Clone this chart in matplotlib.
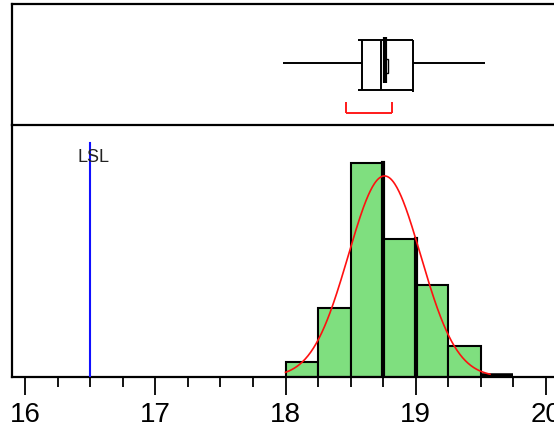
import numpy as np
import matplotlib
matplotlib.use("Agg")
import matplotlib.pyplot as plt
from matplotlib.ticker import MultipleLocator

# Histogram data (bin width 0.25)
bin_edges = [18.0, 18.25, 18.5, 18.75, 19.0, 19.25, 19.5, 19.75]
counts = [2, 9, 28, 18, 12, 4, 0]

# Summary statistics for the box plot
whisker_lo = 17.98
q1 = 18.59
median = 18.73
mean = 18.765
q3 = 18.977
whisker_hi = 19.53
bracket_lo = 18.465
bracket_hi = 18.818

# Fitted normal curve parameters
fit_mean = 18.76
fit_sigma = 0.277
fit_range = (18.0, 19.57)

lsl = 16.5
x_ticks = [16, 17, 18, 19, 20]

plt.rcParams["font.family"] = ["Liberation Sans", "DejaVu Sans"]

W, H = 554, 432
fig = plt.figure(figsize=(W / 100, H / 100), dpi=100)

def px_rect(x0, y0, x1, y1):
    return [x0 / W, (H - y1) / H, (x1 - x0) / W, (y1 - y0) / H]

ax = fig.add_axes(px_rect(12, 125, 560, 377))
ax_box = fig.add_axes(px_rect(12, 4, 560, 125))
ax_box.patch.set_visible(False)
ax.patch.set_visible(False)

xmin = 16 - 13 / 130.25
xmax = 16 + (560 - 25) / 130.25
for a in (ax_box, ax):
    a.set_xlim(xmin, xmax)
    a.spines["right"].set_visible(False)
    for s in a.spines.values():
        s.set_linewidth(1.6)
        s.set_color("black")

# ---- Histogram panel ----
ax.spines["top"].set_visible(False)
ax.set_ylim(0, 252 / 7.65)
widths = np.diff(bin_edges)
ax.bar(bin_edges[:-1], counts, width=widths, align="edge",
       color="#7fdf7f", edgecolor="black", linewidth=1.5, zorder=2)
# empty last bin drawn as a heavy baseline segment
ax.plot([bin_edges[-2], bin_edges[-1]], [0.15, 0.15], color="black",
        lw=4, solid_capstyle="butt", zorder=3)
# emphasised bin edges
for xe in (18.75, 19.0):
    idx = bin_edges.index(xe)
    h = max(counts[idx - 1], counts[idx])
    ax.plot([xe, xe], [0, h], color="black", lw=3, zorder=3)

xs = np.linspace(fit_range[0], fit_range[1], 300)
n_total = sum(counts)
ys = n_total * 0.25 / (fit_sigma * np.sqrt(2 * np.pi)) * np.exp(-0.5 * ((xs - fit_mean) / fit_sigma) ** 2)
ax.plot(xs, ys, color="#ff1010", lw=1.2, zorder=4)

ax.plot([lsl, lsl], [0, (377 - 143) / 7.65], color="#1010ff", lw=1.5, zorder=4)
ax.text(16.405, (377 - 158) / 7.65, "LSL", fontsize=13, ha="left", va="center",
        color="#222222", zorder=5)

ax.set_yticks([])
ax.set_xticks(x_ticks)
ax.xaxis.set_minor_locator(MultipleLocator(0.25))
ax.tick_params(axis="x", which="major", direction="out", length=13, width=1.3,
               pad=5, labelsize=20)
ax.tick_params(axis="x", which="minor", direction="out", length=7, width=1.3)
for t in ax.xaxis.get_minor_ticks():
    loc = t.get_loc()
    if any(abs(loc - v) < 1e-6 for v in (17.25, 18.75)):
        t.tick1line.set_markeredgewidth(3)
for t in ax.xaxis.get_major_ticks():
    if abs(t.get_loc() - 19) < 1e-6:
        t.tick1line.set_markeredgewidth(3)

# ---- Box plot panel ----
ax_box.set_ylim(0, 1)
ax_box.set_xticks([])
ax_box.set_yticks([])
yb0, yb1, ymid = (125 - 90) / 121, (125 - 40) / 121, (125 - 63) / 121
lk = dict(color="black", lw=1.4, solid_capstyle="butt")
ax_box.plot([whisker_lo, q1], [ymid, ymid], **lk)
ax_box.plot([q3, whisker_hi], [ymid, ymid], **lk)
ax_box.plot([q1 - 0.03, q3], [yb1, yb1], **lk)
ax_box.plot([q1 - 0.03, q3], [yb0, yb0], **lk)
ax_box.plot([q1, q1], [yb0, yb1], **lk)
ax_box.plot([q3, q3], [yb0 - 0.02, yb1], **lk)
ax_box.plot([median, median], [yb0, yb1], **lk)
ax_box.plot([mean, mean], [(125 - 83) / 121, (125 - 37) / 121], color="black",
            lw=3, solid_capstyle="butt")
ax_box.add_patch(plt.Rectangle((mean, (125 - 73) / 121), 0.025, 14 / 121,
                               fill=False, edgecolor="black", lw=1))

yr = (125 - 113) / 121
yr_top = (125 - 102) / 121
rk = dict(color="#ff1a1a", lw=1.4, solid_capstyle="butt")
ax_box.plot([bracket_lo, bracket_hi], [yr, yr], **rk)
ax_box.plot([bracket_lo, bracket_lo], [yr, yr_top], **rk)
ax_box.plot([bracket_hi, bracket_hi], [yr, yr_top], **rk)

fig.savefig("out.png", dpi=100)
